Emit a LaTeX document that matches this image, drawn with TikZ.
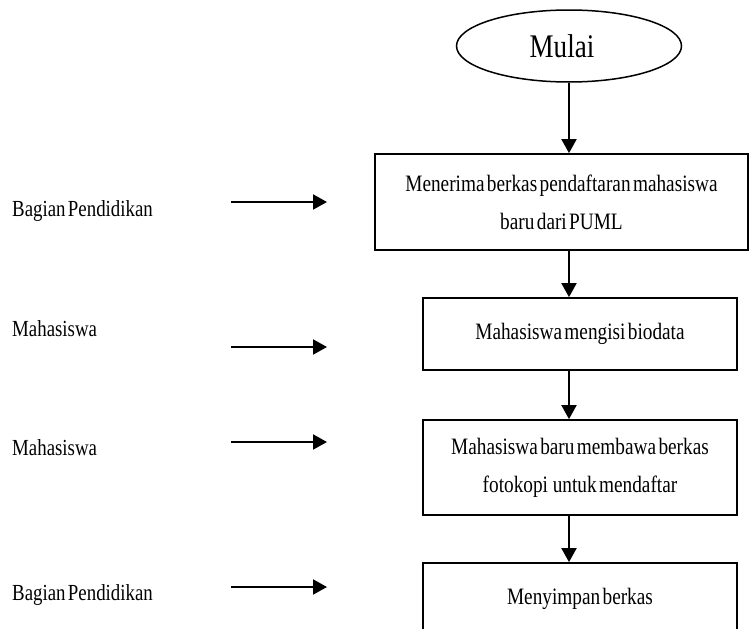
\documentclass[tikz,border=0pt]{standalone}
\usepackage{fontspec}
\setmainfont{Liberation Serif}[FakeStretch=0.82,WordSpace=0.5]
\usetikzlibrary{shapes.geometric,arrows.meta}

\begin{document}
\begin{tikzpicture}
[x=1pt,y=-1pt,
  lineArrow/.style={line width=2pt,-{Triangle[width=15pt,length=14pt]}},
  boxDecorate/.style={draw,line width=1.8pt,inner sep=0pt,align=center,
    font=\fontsize{23.5}{38}\selectfont},
  labelDecorate/.style={anchor=base west,inner sep=0pt,
    font=\fontsize{23}{28}\selectfont}]
\useasboundingbox (0,0) rectangle (750,629);
\clip (0,0) rectangle (750,629);
%% start
\node (mulai) at (569,46) [ellipse,draw,line width=1.5pt,minimum width=225pt,
  minimum height=72pt,inner sep=0pt,font=\fontsize{33}{36}\selectfont] {Mulai\kern14pt};
%% process boxes
\foreach \nodename/\x/\y/\w/\h/\txt in {
  terima/561.5/202/373/96/{Menerima berkas pendaftaran mahasiswa\\baru dari PUML},
  isi/580/334/314/72/{Mahasiswa mengisi biodata},
  bawa/580/467.5/314/95/{Mahasiswa baru membawa berkas\\fotokopi\ \ untuk mendaftar},
  simpan/580/599/314/72/{Menyimpan berkas}}
{
  \node (\nodename) at (\x,\y) [boxDecorate,minimum width=\w pt,minimum height=\h pt] {\txt};
}
%% actors
\foreach \nodename/\y/\txt in {
  aktor1/216/Bagian Pendidikan, aktor2/336/Mahasiswa,
  aktor3/455/Mahasiswa, aktor4/600/Bagian Pendidikan}
{
  \node (\nodename) at (12,\y) [labelDecorate] {\txt};
}
%% actor arrows
\foreach \i/\y in {1/202, 2/347, 3/442, 4/587}
{
  \coordinate (from\i) at (231,\y);
  \coordinate (to\i) at (327,\y);
  \draw[lineArrow] (from\i) -- (to\i);
}
%% flow
\foreach \startnode/\endnode in {mulai/terima, terima/isi, isi/bawa, bawa/simpan}
{
  \draw[lineArrow] (\startnode.south -| mulai) -- (\endnode.north -| mulai);
}
\end{tikzpicture}
\end{document}
